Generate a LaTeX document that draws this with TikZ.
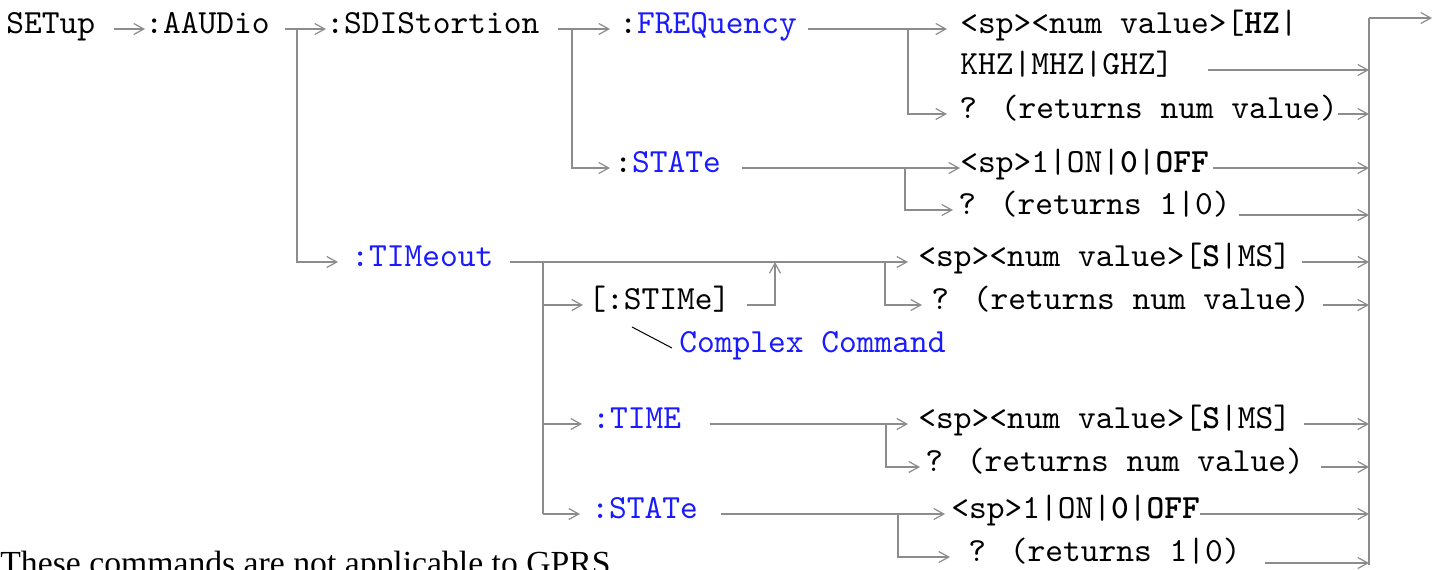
\documentclass[tikz,border=0pt]{standalone}
\usepackage{fontspec}
\usepackage{xcolor}
\usepackage{tikz}
\usetikzlibrary{arrows.meta,positioning}
\newfontfamily\scpifont{lmmono10-regular}[Extension=.otf, BoldFont=lmmonolt10-bold]
\newfontfamily\notefont{Liberation Serif}
\definecolor{linecol}{HTML}{8C8C8C}
\definecolor{kwcol}{HTML}{1A1AFF}

\begin{document}
\begin{tikzpicture}[
  x=0.5pt, y=-0.5pt,
  every node/.style={inner sep=0pt},
  cmd/.style={anchor=west, text height=8pt, text depth=3.4pt,
    font=\scpifont\fontsize{16.9pt}{19pt}\selectfont},
  kw/.style={cmd, text=kwcol},
  line/.style={draw=linecol, line width=1pt},
  arr/.style={line, -{Straight Barb[length=5pt,width=5.5pt,line width=0.6pt]}},
  lead/.style={draw=black, line width=0.5pt},
  note/.style={anchor=base west, font=\notefont\fontsize{16.85pt}{19pt}\selectfont}
]
\useasboundingbox (0,0) rectangle (1437,569);
% commands
\node[cmd] (setup) at (6,29) {SETup};
\node[cmd] (aaudio) at (145,29) {:AAUDio};
\node[cmd] (sdis) at (326,29) {:SDIStortion};
\node[cmd] (freq) at (619,29) {:\textcolor{kwcol}{FREQuency}};
\node[cmd] (state1) at (614,168) {:\textcolor{kwcol}{STATe}};
\node[kw] (timeout) at (351,262) {:TIMeout};
\node[cmd] (stime) at (588,305) {[:STIMe]};
\node[kw] (complex) at (679,348) {Complex Command};
\node[kw] (time) at (592,424) {:TIME};
\node[kw] (state2) at (591,514) {:STATe};
% parameters
\node[cmd] (hz) at (960,29) {<sp><num value>[\textbf{HZ}|};
\node[cmd] (khz) at (960,70) {KHZ|MHZ|GHZ]};
\node[cmd] (q1) at (959,114) {? (returns num value)};
\node[cmd] (on1) at (960,168) {<sp>1|ON|\textbf{0}|\textbf{OFF}};
\node[cmd] (q2) at (958,210) {? (returns 1|0)};
\node[cmd] (s1) at (918,262) {<sp><num value>[\textbf{S}|MS]};
\node[cmd] (q3) at (931,305) {? (returns num value)};
\node[cmd] (s2) at (918,424) {<sp><num value>[\textbf{S}|MS]};
\node[cmd] (q4) at (925,467) {? (returns num value)};
\node[cmd] (on2) at (951,514) {<sp>1|ON|\textbf{0}|\textbf{OFF}};
\node[cmd] (q5) at (968,557) {? (returns 1|0)};
\node[note] (gprs) at (0,574) {These commands are not applicable to GPRS};
% junctions
\coordinate (j1) at (297,29);
\coordinate (j2) at (572,29);
\coordinate (j3) at (908,29);
\coordinate (j4) at (905,168);
\coordinate (j5) at (543,262);
\coordinate (j6) at (885,262);
\coordinate (j7) at (775,262);
\coordinate (j8) at (886,424);
\coordinate (j9) at (898,514);
\coordinate (bustop) at (1369,18);
\coordinate (busbot) at (1369,565);
\coordinate (busout) at (1432,18);
\coordinate (ld) at (632,327);

\draw[arr] ([xshift=9pt]setup.east) -- (aaudio.west);
\draw[arr] ([xshift=7.5pt]aaudio.east) -- (sdis.west);
\draw[arr] (j1) |- ([xshift=-6.5pt]timeout.west);
\draw[arr] ([xshift=9pt]sdis.east) -- ([xshift=-4.5pt]freq.west);
\draw[arr] (j2) |- ([xshift=-2pt]state1.west);
\draw[arr] ([xshift=5.5pt]freq.east) -- ([xshift=-6.5pt]hz.west);
\draw[arr] (j3) |- ([xshift=-6pt]q1.west);
\draw[arr] ([xshift=10.5pt]state1.east) -- (on1.west);
\draw[arr] (j4) |- ([xshift=-2.5pt]q2.west);
\draw[arr] ([xshift=8pt]timeout.east) -- ([xshift=-5pt]s1.west);
\draw[arr] (j6) |- ([xshift=-4.5pt]q3.west);
\draw[line] (j5) -- (j5 |- state2.west);
\draw[arr] (j5 |- stime.west) -- ([xshift=-2.5pt]stime.west);
\draw[arr] (j5 |- time.west) -- ([xshift=-5pt]time.west);
\draw[arr] (j5 |- state2.west) -- ([xshift=-5.5pt]state2.west);
\draw[arr] ([xshift=8pt]stime.east) -| (j7);
\draw[lead] (ld) -- ([xshift=-3.5pt]complex.west);
\draw[arr] ([xshift=14pt]time.east) -- ([xshift=-5pt]s2.west);
\draw[arr] (j8) |- ([xshift=-2.5pt]q4.west);
\draw[arr] ([xshift=11.5pt]state2.east) -- ([xshift=-3pt]on2.west);
\draw[arr] (j9) |- ([xshift=-9pt]q5.west);
% return bus
\draw[arr] ([xshift=17pt]khz.east) -- (khz.east -| bustop);
\draw[arr] (q1.east) -- (q1.east -| bustop);
\draw[arr] ([xshift=2pt]on1.east) -- (on1.east -| bustop);
\draw[arr] ([shift={(8,5)}]q2.east) -- ([yshift=-2.5pt]q2.east -| bustop);
\draw[arr] ([xshift=5.5pt]s1.east) -- (s1.east -| bustop);
\draw[arr] ([xshift=6.5pt]q3.east) -- (q3.east -| bustop);
\draw[arr] ([xshift=6.5pt]s2.east) -- (s2.east -| bustop);
\draw[arr] ([xshift=8.5pt]q4.east) -- (q4.east -| bustop);
\draw[arr] (on2.east) -- (on2.east -| bustop);
\draw[arr] ([shift={(24,6)}]q5.east) -- ([yshift=-3pt]q5.east -| bustop);
\draw[line] (busbot) -- (bustop);
\draw[arr] (bustop) -- (busout);
\end{tikzpicture}
\end{document}
